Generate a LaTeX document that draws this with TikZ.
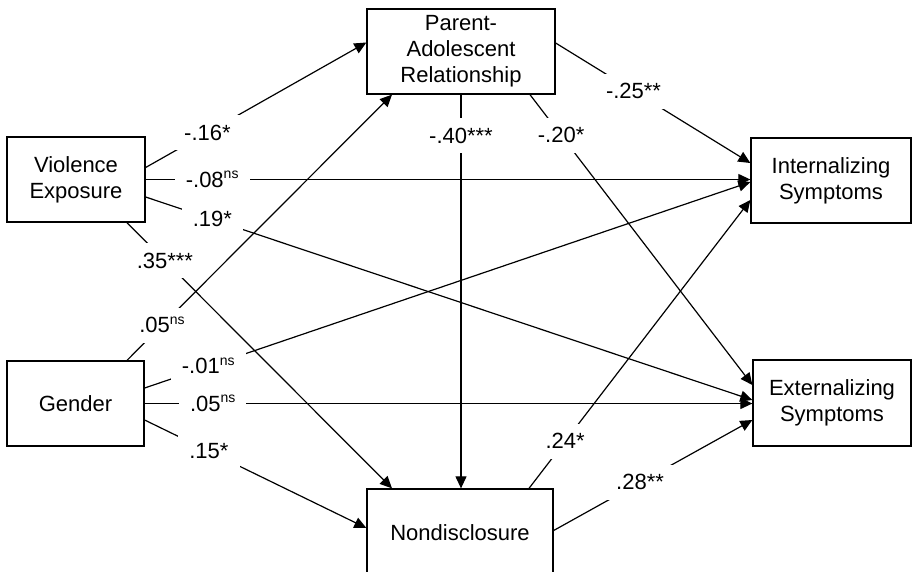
\documentclass[tikz,border=0pt]{standalone}
\usepackage{fontspec}
\setmainfont{Liberation Sans}
\usetikzlibrary{arrows.meta,calc}
\newcommand\nsup{\raisebox{8.5pt}{\fontsize{14}{14}\selectfont ns}}
\begin{document}
\begin{tikzpicture}[x=1pt,y=-1pt,
 box/.style={draw, line width=1.3pt, inner sep=0pt, align=center, font=\fontsize{22}{26}\selectfont},
 conn/.style={line width=1.2pt, -{Triangle[length=12pt,width=11pt]}},
 coef/.style={fill=white, inner xsep=11pt, inner ysep=9pt, text height=16pt, text depth=1pt, font=\fontsize{22}{26}\selectfont}]
\useasboundingbox (0,0) rectangle (912,571);
\clip (0,0) rectangle (912,571);
\node[box, minimum width=138pt, minimum height=85pt] (VE) at (76,179.5) {Violence\\Exposure};
\node[box, minimum width=137pt, minimum height=85pt] (G) at (75.5,403.5) {Gender};
\node[box, minimum width=188pt, minimum height=85pt] (PAR) at (461,51.5) {Parent-\\Adolescent\\Relationship};
\node[box, minimum width=160pt, minimum height=85pt] (Int) at (831,180.5) {Internalizing\\Symptoms};
\node[box, minimum width=158pt, minimum height=86pt] (Ext) at (832,403) {Externalizing\\Symptoms};
\node[box, minimum width=186pt, minimum height=88pt] (ND) at (460,533) {Nondisclosure};

\draw[conn] ([yshift=12pt]VE.east) -- node[coef,pos=0.28]{-.16*} ([yshift=9pt]PAR.west);
\draw[conn] (VE.east) -- node[coef,pos=0.11]{-.08\nsup} (VE.east -| Int.west);
\draw[conn] ([yshift=-17.5pt]VE.east) -- node[coef,pos=0.11]{.19*} ([yshift=3pt]Ext.west);
\draw[conn] ([xshift=51pt]VE.south) -- node[coef,pos=0.143]{.35***} ([xshift=-68pt]ND.north);
\draw[conn] ([xshift=51.5pt]G.north) -- node[coef,pos=0.132]{.05\nsup} ([xshift=-69pt]PAR.south);
\draw[conn] ([yshift=15.5pt]G.east) -- node[coef,pos=0.105]{-.01\nsup} ([yshift=-1.5pt]Int.west);
\draw[conn] (G.east) -- node[coef,pos=0.112]{.05\nsup} (G.east -| Ext.west);
\draw[conn] ([yshift=-16.5pt]G.east) -- node[coef,pos=0.29]{.15*} ([yshift=5pt]ND.west);
\draw[conn] ([yshift=8.5pt]PAR.east) -- node[coef,pos=0.40]{-.25**} ([yshift=17.5pt]Int.west);
\draw[conn] (PAR.south) -- node[coef,pos=0.104]{-.40***} (PAR.south |- ND.north);
\draw[conn] ([xshift=69pt]PAR.south) -- node[coef,pos=0.14]{-.20*} ([yshift=18pt]Ext.west);
\draw[conn] ([xshift=69pt]ND.north) -- node[coef,pos=0.163]{.24*} ([yshift=-19.5pt]Int.west);
\draw[conn] ([yshift=2.5pt]ND.east) -- node[coef,pos=0.435]{.28**} ([yshift=-17pt]Ext.west);
\end{tikzpicture}
\end{document}
